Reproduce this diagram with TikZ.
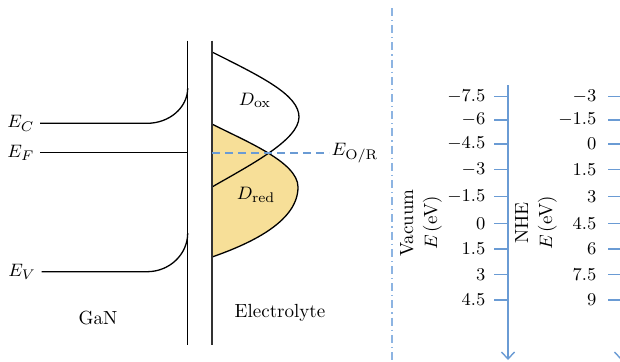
\documentclass[tikz,border=0pt]{standalone}
\usetikzlibrary{arrows.meta}
\definecolor{axisblue}{RGB}{106,155,212}
\definecolor{dashblue}{RGB}{141,180,226}
\definecolor{redfill}{RGB}{247,223,152}
\begin{document}
\begin{tikzpicture}[x=0.5pt,y=-0.5pt,line width=0.65pt,font=\fontsize{9.5}{12}\selectfont,
  lbl/.style={inner sep=2.5pt},
  ax/.style={draw=axisblue,line width=0.7pt},
  axarrow/.style={ax,-{Straight Barb[length=3.5pt,width=6.5pt]}},
  vlabel/.style={rotate=90,align=center,inner sep=0pt}]
\useasboundingbox (0,0) rectangle (620,361);
% band diagram
\fill[redfill] (212,124) .. controls (245,141) and (298,162) .. (298,187)
  .. controls (298,220) and (255,242) .. (212,257) -- cycle;
\node[lbl,anchor=east] (ec) at (40,123.3) {$E_C$};
\node[lbl,anchor=east] (ef) at (40,152.7) {$E_F$};
\node[lbl,anchor=east] (ev) at (41.5,271.7) {$E_V$};
\node[inner sep=1pt,anchor=west] (eor) at (329,153) {$E_{\mathrm{O/R}}$};
\node (dox) at (255,100) {$D_{\mathrm{ox}}$};
\node (dred) at (256,195) {$D_{\mathrm{red}}$};
\node (gan) at (98,318) {GaN};
\node (elec) at (280,313) {Electrolyte};
\draw (212,124) .. controls (245,141) and (298,162) .. (298,187)
  .. controls (298,220) and (255,242) .. (212,257);
\draw (212,52) .. controls (262,77) and (299,95) .. (299,117)
  .. controls (299,140) and (250,165) .. (212,187);
\draw (187.7,40.7) -- (187.7,345);
\draw[black!80] (212,40.7) -- (212,345);
\draw (ec.east) -- (147,123.3) .. controls (169.5,123.3) and (187.7,107.5) .. (187.7,88);
\draw (ef.east) -- (187.7,152.7);
\draw (ev.east) -- (147,271.7) .. controls (169.5,271.7) and (187.7,254.4) .. (187.7,233);
\draw[axisblue,line width=0.6pt,dash pattern=on 4pt off 2.5pt] (212,153) -- (eor.west);
% energy scales
\draw[dashblue,line width=0.7pt,dash pattern=on 4pt off 2pt on 0.6pt off 2pt] (392,8) -- (392,361);
\coordinate (vtop) at (508,85);
\coordinate (vbot) at (508,360);
\coordinate (ntop) at (621,85);
\coordinate (nbot) at (621,360);
\draw[axarrow] (vtop) -- (vbot);
\draw[axarrow] (ntop) -- (nbot);
\foreach \y/\v/\w [count=\i] in {96.7/-7.5/-3, 120/-6/-1.5, 144/-4.5/0, 169.3/-3/1.5, 196.7/-1.5/3,
    223.3/0/4.5, 249/1.5/6, 274.3/3/7.5, 300/4.5/9} {
  \draw[ax] (494,\y) -- (508,\y);
  \node[inner sep=1pt,anchor=east] (vac\i) at (488,\y) {$\v$};
  \draw[ax] (608,\y) -- (621,\y);
  \node[inner sep=1pt,anchor=east] (nhe\i) at (599,\y) {$\w$};
}
\node[vlabel] (vacname) at (421,223) {Vacuum\\$E$\,(eV)};
\node[vlabel] (nhename) at (536,223) {NHE\\$E$\,(eV)};
\end{tikzpicture}
\end{document}
